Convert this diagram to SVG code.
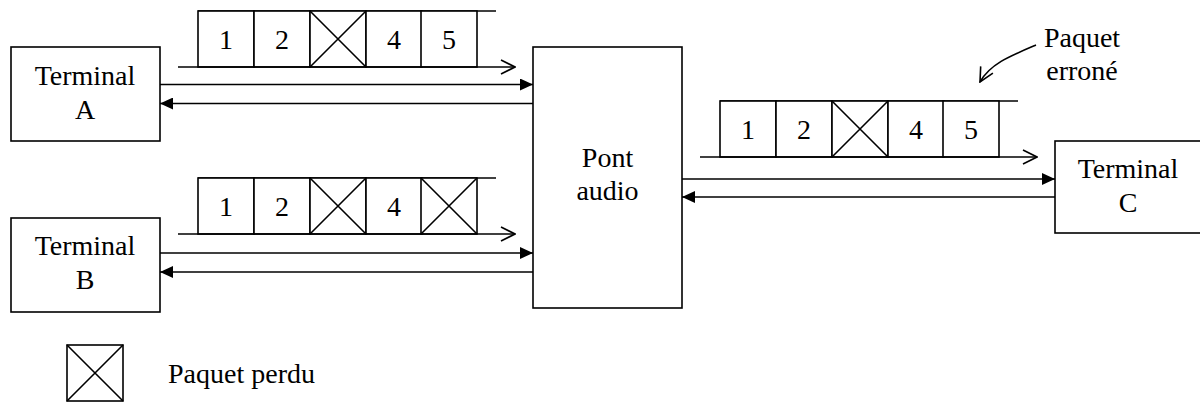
<svg xmlns="http://www.w3.org/2000/svg" width="1200" height="403" viewBox="0 0 1200 403">
<style>
text{font-family:"Liberation Serif",serif !important;font-size:28px;fill:#000}
.t{text-anchor:middle}
.b{fill:#fff;stroke:#000;stroke-width:1.6}
.l{fill:none;stroke:#000;stroke-width:1.6}
</style>
<defs>
<marker id="fa" markerWidth="14" markerHeight="12" refX="13" refY="6" orient="auto" markerUnits="userSpaceOnUse">
<path d="M0,0 L13,6 L0,12 Z" fill="#000"/>
</marker>
<marker id="oa" markerWidth="16" markerHeight="16" refX="15" refY="8" orient="auto" markerUnits="userSpaceOnUse">
<path d="M1,1 L15,8 L1,15" fill="none" stroke="#000" stroke-width="1.6"/>
</marker>
<g id="pk">
<rect class="b" x="0" y="0" width="56" height="56"/>
</g>
<g id="px">
<rect class="b" x="0" y="0" width="56" height="56"/>
<path class="l" d="M0,0 L56,56 M56,0 L0,56"/>
</g>
</defs>
<rect width="1200" height="403" fill="#fff"/>

<g id="terminal-a">
<rect class="b" x="11" y="47" width="149" height="94"/>
<text class="t" x="85" y="85" font-family="Liberation Serif">Terminal</text>
<text class="t" x="85" y="119" font-family="Liberation Serif">A</text>
</g>
<g id="terminal-b">
<rect class="b" x="11" y="218" width="149" height="94"/>
<text class="t" x="85" y="255" font-family="Liberation Serif">Terminal</text>
<text class="t" x="85" y="289" font-family="Liberation Serif">B</text>
</g>
<g id="pont-audio">
<rect class="b" x="533" y="47" width="149" height="261"/>
<text class="t" x="607.5" y="167" font-family="Liberation Serif">Pont</text>
<text class="t" x="607.5" y="200" font-family="Liberation Serif">audio</text>
</g>
<g id="terminal-c">
<rect class="b" x="1055" y="141" width="150" height="92"/>
<text class="t" x="1128" y="178" font-family="Liberation Serif">Terminal</text>
<text class="t" x="1128" y="212" font-family="Liberation Serif">C</text>
</g>

<g id="queue-a">
<path class="l" d="M198,11 L496,11"/>
<use href="#pk" x="198" y="11"/>
<use href="#pk" x="254" y="11"/>
<use href="#px" x="310" y="11"/>
<use href="#pk" x="366" y="11"/>
<use href="#pk" x="421" y="11"/>
<text class="t" x="226" y="49" font-family="Liberation Serif">1</text>
<text class="t" x="282" y="49" font-family="Liberation Serif">2</text>
<text class="t" x="394" y="49" font-family="Liberation Serif">4</text>
<text class="t" x="449" y="49" font-family="Liberation Serif">5</text>
</g>
<g id="queue-b">
<path class="l" d="M198,178 L496,178"/>
<use href="#pk" x="198" y="178"/>
<use href="#pk" x="254" y="178"/>
<use href="#px" x="310" y="178"/>
<use href="#pk" x="366" y="178"/>
<use href="#px" x="421" y="178"/>
<text class="t" x="226" y="216" font-family="Liberation Serif">1</text>
<text class="t" x="282" y="216" font-family="Liberation Serif">2</text>
<text class="t" x="394" y="216" font-family="Liberation Serif">4</text>
</g>
<g id="queue-c">
<path class="l" d="M720,101 L1018,101"/>
<use href="#pk" x="720" y="101"/>
<use href="#pk" x="776" y="101"/>
<use href="#px" x="832" y="101"/>
<use href="#pk" x="888" y="101"/>
<use href="#pk" x="943" y="101"/>
<text class="t" x="748" y="139" font-family="Liberation Serif">1</text>
<text class="t" x="804" y="139" font-family="Liberation Serif">2</text>
<text class="t" x="916" y="139" font-family="Liberation Serif">4</text>
<text class="t" x="971" y="139" font-family="Liberation Serif">5</text>
</g>

<g id="connectors">
<path class="l" d="M178,67 L515,67" marker-end="url(#oa)"/>
<path class="l" d="M160,84.5 L533,84.5" marker-end="url(#fa)"/>
<path class="l" d="M533,103.5 L160,103.5" marker-end="url(#fa)"/>
<path class="l" d="M178,234 L515,234" marker-end="url(#oa)"/>
<path class="l" d="M160,253 L533,253" marker-end="url(#fa)"/>
<path class="l" d="M533,272 L160,272" marker-end="url(#fa)"/>
<path class="l" d="M700,157 L1037,157" marker-end="url(#oa)"/>
<path class="l" d="M682,179 L1055,179" marker-end="url(#fa)"/>
<path class="l" d="M1055,197 L682,197" marker-end="url(#fa)"/>
<path class="l" d="M1036,45 C1010,56 990,64 980,82" marker-end="url(#oa)"/>
</g>

<g id="label-errone">
<text class="t" x="1082" y="47" font-family="Liberation Serif">Paquet</text>
<text class="t" x="1082" y="80" font-family="Liberation Serif">erroné</text>
</g>

<g id="legend">
<use href="#px" x="67" y="345"/>
<text x="168" y="383" font-family="Liberation Serif">Paquet perdu</text>
</g>
</svg>
